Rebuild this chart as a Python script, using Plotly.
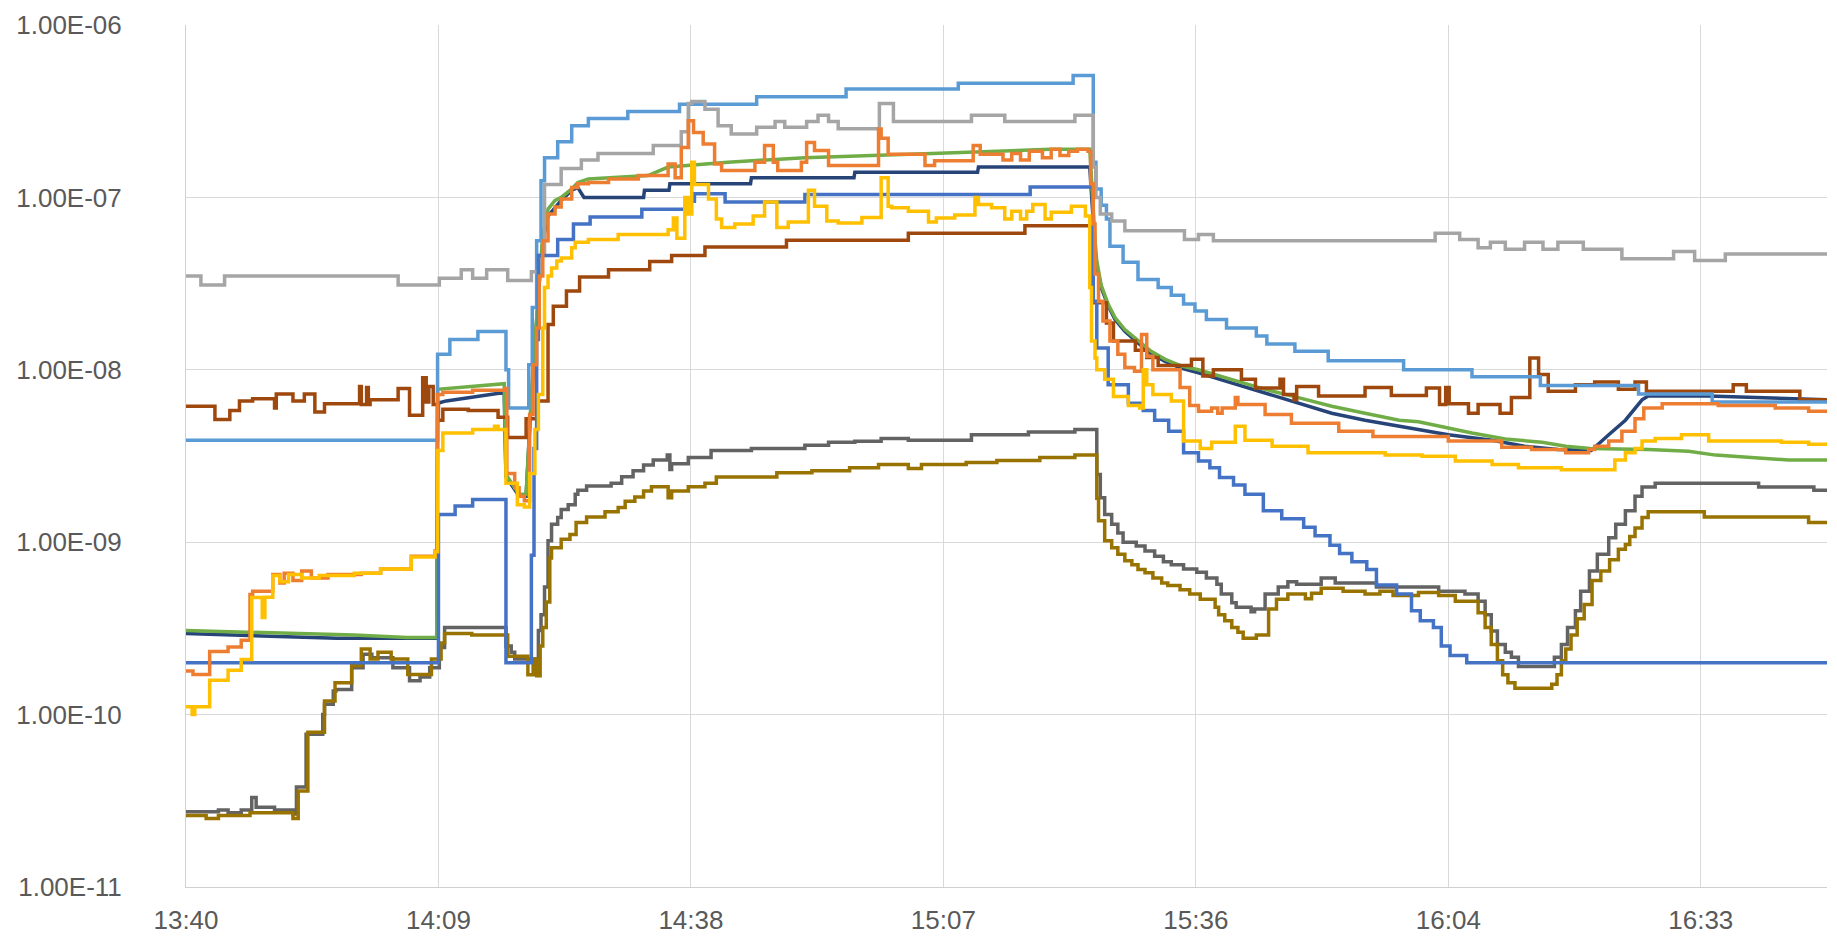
import plotly.graph_objects as go

# ---------------- data (time in minutes after midnight, value) ----------------
tick_vals = [820.8, 849.6, 878.4, 907.2, 936.0, 964.8, 993.6]
tick_text = ["13:40", "14:09", "14:38", "15:07", "15:36", "16:04", "16:33"]
y_tick_vals = [1e-11, 1e-10, 1e-9, 1e-8, 1e-7, 1e-6]
y_tick_text = ["1.00E-11", "1.00E-10", "1.00E-09", "1.00E-08", "1.00E-07", "1.00E-06"]

t_blue = [820.8, 849.6, 851.5, 853.5, 857.3, 860.2, 860.5, 860.8, 861.0, 863.2, 865.0, 866.9, 872.8, 878.1,
          878.8, 882.3, 891.4, 917.1, 924.3, 924.7, 926.0, 928.3, 930.0, 931.3, 932.9, 934.6, 936.3, 937.6,
          938.7, 940.3, 941.6, 943.7, 945.8, 948.3, 949.6, 951.3, 952.4, 953.8, 955.5, 956.6, 958.9, 960.6,
          961.6, 963.1, 964.0, 965.0, 966.9, 1008]
v_blue = [2.0e-10, 1.45e-9, 1.62e-9, 1.77e-9, 2.0e-10, 8.4e-10, 3.5e-9, 1.5e-8, 4.6e-8, 5.7e-8, 7.0e-8, 7.7e-8,
          8.55e-8, 9.5e-8, 1.05e-7, 9.4e-8, 1.04e-7, 1.15e-7, 2.5e-8, 1.34e-8, 8.2e-9, 6.4e-9, 5.8e-9, 5.1e-9,
          4.4e-9, 3.3e-9, 2.96e-9, 2.7e-9, 2.37e-9, 2.15e-9, 1.9e-9, 1.52e-9, 1.37e-9, 1.22e-9, 1.09e-9, 9.6e-10,
          8.6e-10, 7.7e-10, 6.95e-10, 5.65e-10, 5.0e-10, 4.0e-10, 3.5e-10, 3.2e-10, 2.5e-10, 2.2e-10, 2.0e-10,
          2.0e-10]

t_orange = [820.8, 821.6, 823.5, 825.6, 827.1, 828.1, 828.4, 830.7, 831.5, 832.0, 833.0, 834.0, 835.1, 837.0,
            840.8, 843.0, 846.5, 849.2, 849.5, 850.1, 853.5, 857.2, 857.4, 858.3, 858.8, 859.4, 860.0, 860.4,
            860.8, 861.1, 861.5, 862.1, 862.9, 863.6, 864.8, 865.5, 866.7, 869.0, 872.4, 875.8, 876.6, 877.3,
            878.1, 878.7, 879.8, 881.1, 881.9, 885.7, 886.8, 887.8, 888.3, 891.0, 891.6, 892.5, 894.1, 899.8,
            900.1, 900.9, 905.1, 906.2, 910.0, 910.6, 911.4, 914.0, 915.0, 916.0, 917.0, 918.5, 919.5, 920.5,
            921.5, 922.5, 923.7, 924.0, 924.3, 924.5, 924.9, 925.4, 926.2, 927.1, 927.9, 929.0, 929.8, 930.4,
            931.1, 934.2, 935.3, 936.3, 937.8, 938.5, 939.0, 940.5, 940.8, 943.9, 946.9, 952.3, 956.2, 964.8,
            970.9, 974.3, 978.2, 980.8, 981.5, 983.1, 984.6, 986.1, 987.1, 989.2, 995.6, 1002.1, 1005.9, 1008]
v_orange = [1.79e-10, 1.71e-10, 2.32e-10, 2.47e-10, 2.7e-10, 4.98e-10, 5.2e-10, 6.5e-10, 5.8e-10, 6.6e-10, 6.0e-10,
            6.8e-10, 6.2e-10, 6.5e-10, 6.6e-10, 7.0e-10, 8.3e-10, 8.9e-10, 7.2e-9, 7.4e-9, 7.6e-9, 7.8e-9, 2.5e-9,
            2.07e-9, 1.85e-9, 1.74e-9, 5.5e-9, 1.07e-8, 1.75e-8, 3.5e-8, 5.6e-8, 8.0e-8, 8.8e-8, 9.8e-8, 1.14e-7,
            1.2e-7, 1.22e-7, 1.28e-7, 1.34e-7, 1.56e-7, 1.3e-7, 1.95e-7, 2.78e-7, 2.38e-7, 2.04e-7, 1.56e-7,
            1.43e-7, 1.6e-7, 2.0e-7, 1.6e-7, 1.43e-7, 1.6e-7, 2.08e-7, 1.87e-7, 1.53e-7, 2.49e-7, 2.2e-7, 1.78e-7,
            1.53e-7, 1.63e-7, 1.63e-7, 2.0e-7, 1.78e-7, 1.65e-7, 1.8e-7, 1.65e-7, 1.85e-7, 1.7e-7, 1.9e-7, 1.75e-7,
            1.85e-7, 1.9e-7, 1.85e-7, 1.2e-7, 7.0e-8, 3.6e-8, 2.5e-8, 1.92e-8, 1.47e-8, 1.23e-8, 1.03e-8, 9.8e-9,
            1.6e-8, 1.2e-8, 1.0e-8, 7.9e-9, 6.2e-9, 5.75e-9, 6.0e-9, 5.6e-9, 6.0e-9, 6.9e-9, 6.3e-9, 5.5e-9,
            4.9e-9, 4.4e-9, 4.1e-9, 3.86e-9, 3.55e-9, 3.45e-9, 3.3e-9, 3.45e-9, 3.6e-9, 3.86e-9, 4.4e-9, 5.2e-9,
            6.0e-9, 6.35e-9, 6.2e-9, 6.0e-9, 5.75e-9, 5.75e-9]

t_gray = [820.8, 822.5, 825.2, 845.0, 849.7, 852.2, 853.5, 855.1, 857.5, 860.2, 861.2, 861.7, 863.6, 865.9,
          867.8, 874.1, 877.3, 878.1, 878.5, 880.0, 881.5, 883.0, 885.9, 888.0, 889.1, 891.6, 892.9, 894.1,
          895.2, 899.9, 901.5, 910.4, 914.2, 922.2, 924.3, 924.6, 925.1, 926.4, 927.9, 934.7, 936.3, 938.0,
          963.3, 966.1, 968.2, 969.6, 971.3, 973.5, 975.6, 977.3, 980.2, 984.6, 990.5, 992.9, 996.4, 1008]
v_gray = [3.5e-8, 3.1e-8, 3.5e-8, 3.1e-8, 3.4e-8, 3.8e-8, 3.4e-8, 3.8e-8, 3.3e-8, 3.7e-8, 4.6e-8, 1.19e-7,
          1.47e-7, 1.65e-7, 1.8e-7, 2.0e-7, 2.4e-7, 3.5e-7, 3.6e-7, 3.25e-7, 2.6e-7, 2.33e-7, 2.55e-7, 2.76e-7,
          2.55e-7, 2.76e-7, 3.0e-7, 2.76e-7, 2.5e-7, 3.5e-7, 2.76e-7, 3.0e-7, 2.76e-7, 3.0e-7, 1.5e-7, 1.0e-7,
          8.0e-8, 7.3e-8, 6.4e-8, 5.7e-8, 6.1e-8, 5.6e-8, 6.2e-8, 5.7e-8, 5.1e-8, 5.5e-8, 5.0e-8, 5.5e-8, 5.0e-8,
          5.5e-8, 5.0e-8, 4.4e-8, 4.85e-8, 4.3e-8, 4.7e-8, 4.7e-8]

t_gold = [820.8, 821.5, 821.8, 823.5, 825.6, 827.1, 828.3, 829.5, 829.8, 830.7, 831.5, 832.5, 834.0, 836.0,
          840.0, 843.0, 846.5, 849.2, 849.5, 850.1, 853.5, 856.0, 856.4, 857.3, 858.6, 859.4, 860.0, 860.6,
          861.0, 861.5, 861.7, 862.1, 862.5, 863.1, 863.6, 864.8, 865.2, 866.7, 870.1, 875.8, 876.4, 876.8,
          877.7, 878.1, 878.5, 878.8, 880.4, 881.3, 881.9, 883.4, 885.5, 886.8, 888.2, 889.5, 891.8, 892.5,
          893.9, 895.2, 897.9, 900.1, 900.9, 901.3, 903.2, 905.5, 906.4, 908.5, 910.8, 911.2, 912.7, 914.2,
          915.0, 916.0, 916.7, 917.4, 918.8, 919.5, 921.8, 923.4, 923.9, 924.1, 924.5, 924.7, 925.6, 926.6,
          928.3, 929.6, 930.0, 930.4, 931.1, 933.2, 934.6, 936.5, 937.8, 940.5, 941.6, 944.7, 948.8, 957.6,
          961.8, 965.6, 969.8, 972.8, 977.7, 983.8, 985.0, 986.1, 986.9, 988.4, 991.4, 994.5, 1002.8, 1005.9, 1008]
v_gold = [1.11e-10, 1.0e-10, 1.11e-10, 1.58e-10, 1.81e-10, 2.09e-10, 4.77e-10, 3.66e-10, 4.8e-10, 6.4e-10,
          5.9e-10, 6.5e-10, 6.2e-10, 6.4e-10, 6.6e-10, 7.0e-10, 8.2e-10, 8.8e-10, 3.4e-9, 4.3e-9, 4.5e-9, 4.7e-9,
          4.5e-9, 2.2e-9, 1.65e-9, 1.6e-9, 2.5e-9, 4.5e-9, 7.2e-9, 1.75e-8, 3.0e-8, 3.5e-8, 3.9e-8, 4.27e-8,
          4.45e-8, 5.1e-8, 5.5e-8, 5.7e-8, 6.1e-8, 6.5e-8, 7.6e-8, 5.8e-8, 1.0e-7, 8.0e-8, 1.6e-7, 1.19e-7,
          9.8e-8, 7.5e-8, 6.7e-8, 7.0e-8, 7.8e-8, 9.4e-8, 6.7e-8, 7.2e-8, 1.1e-7, 8.9e-8, 7.3e-8, 7.1e-8,
          7.65e-8, 1.3e-7, 8.9e-8, 8.7e-8, 8.3e-8, 7.2e-8, 7.6e-8, 7.9e-8, 1.0e-7, 9.1e-8, 8.7e-8, 7.5e-8,
          8.3e-8, 7.5e-8, 8.3e-8, 9.1e-8, 7.5e-8, 8.2e-8, 8.9e-8, 7.8e-8, 3.0e-8, 1.47e-8, 1.17e-8, 1.0e-8,
          8.8e-9, 7.0e-9, 6.2e-9, 6.0e-9, 1.0e-8, 8.2e-9, 7.2e-9, 6.6e-9, 3.86e-9, 3.5e-9, 3.8e-9, 4.7e-9,
          3.9e-9, 3.6e-9, 3.3e-9, 3.2e-9, 3.15e-9, 2.96e-9, 2.82e-9, 2.7e-9, 2.63e-9, 3.0e-9, 3.3e-9, 3.5e-9,
          3.86e-9, 4.0e-9, 4.2e-9, 3.86e-9, 3.8e-9, 3.7e-9, 3.7e-9]

t_lightblue = [820.8, 849.5, 850.9, 854.1, 857.3, 857.6, 859.9, 860.3, 860.8, 861.3, 861.7, 863.2, 864.8, 866.7,
               871.2, 877.1, 885.9, 896.1, 908.9, 922.0, 924.3, 924.6, 925.2, 925.8, 926.2, 927.7, 929.4, 931.7,
               933.2, 934.6, 935.9, 937.2, 939.5, 942.9, 944.1, 947.3, 951.1, 959.7, 967.5, 975.3, 986.5, 994.9,
               1008]
v_lightblue = [3.9e-9, 1.23e-8, 1.5e-8, 1.67e-8, 1.0e-8, 6.0e-9, 1.07e-8, 2.3e-8, 5.6e-8, 1.25e-7, 1.7e-7, 2.1e-7,
               2.6e-7, 2.87e-7, 3.15e-7, 3.47e-7, 3.84e-7, 4.25e-7, 4.6e-7, 5.09e-7, 1.6e-7, 1.12e-7, 9.0e-8,
               7.5e-8, 5.2e-8, 4.2e-8, 3.34e-8, 3.0e-8, 2.71e-8, 2.41e-8, 2.19e-8, 1.96e-8, 1.75e-8, 1.57e-8,
               1.41e-8, 1.28e-8, 1.13e-8, 1.0e-8, 9.1e-9, 8.1e-9, 7.25e-9, 6.5e-9, 6.5e-9]

t_green = [820.8, 830.0, 840.0, 846.0, 849.4, 849.5, 853.5, 856.8, 857.1, 857.3, 858.8, 859.6, 860.0, 860.4,
           860.8, 861.2, 861.5, 862.1, 862.9, 863.6, 864.8, 865.5, 866.7, 873.5, 875.8, 882.6, 891.4, 905.9,
           919.4, 923.9, 924.1, 924.5, 924.7, 925.2, 926.0, 926.8, 927.9, 929.4, 930.9, 932.5, 934.4, 936.3,
           940.1, 943.9, 947.7, 951.5, 955.3, 959.2, 961.4, 964.8, 967.5, 971.3, 975.5, 978.2, 981.0, 987.6,
           992.2, 995.3, 999.1, 1003.6, 1008]
v_green = [3.07e-10, 3.0e-10, 2.9e-10, 2.8e-10, 2.8e-10, 7.7e-9, 8.0e-9, 8.3e-9, 8.3e-9, 2.47e-9, 1.9e-9, 1.9e-9,
           5.0e-9, 1.1e-8, 2.0e-8, 4.0e-8, 6.0e-8, 8.55e-8, 9.6e-8, 1.0e-7, 1.12e-7, 1.22e-7, 1.28e-7, 1.34e-7,
           1.5e-7, 1.6e-7, 1.7e-7, 1.8e-7, 1.9e-7, 1.9e-7, 1.2e-7, 5.6e-8, 4.27e-8, 3.1e-8, 2.4e-8, 2.0e-8,
           1.71e-8, 1.47e-8, 1.28e-8, 1.15e-8, 1.05e-8, 1.0e-8, 8.8e-9, 7.7e-9, 6.9e-9, 6.15e-9, 5.6e-9, 5.1e-9,
           5.0e-9, 4.6e-9, 4.3e-9, 3.97e-9, 3.8e-9, 3.6e-9, 3.5e-9, 3.45e-9, 3.37e-9, 3.2e-9, 3.1e-9, 3.0e-9,
           3.0e-9]

t_darkblue = [820.8, 838.0, 849.4, 849.5, 850.5, 853.0, 856.5, 857.1, 857.3, 858.8, 859.6, 860.0, 860.4, 860.8,
              861.2, 861.5, 862.1, 862.9, 863.6, 864.8, 865.5, 866.2, 873.0, 873.1, 875.9, 876.0, 885.2, 885.3,
              897.0, 897.1, 911.1, 911.2, 923.9, 924.5, 924.7, 925.2, 926.0, 926.8, 927.9, 929.4, 930.9, 932.5,
              934.4, 936.3, 940.1, 943.9, 947.7, 951.5, 955.3, 959.2, 961.4, 964.8, 969.8, 973.5, 977.3, 981.1,
              983.1, 985.0, 986.9, 987.6, 994.5, 1000.0, 1008]
v_darkblue = [2.95e-10, 2.77e-10, 2.77e-10, 6.4e-9, 6.6e-9, 6.9e-9, 7.3e-9, 7.3e-9, 2.4e-9, 1.85e-9, 1.85e-9,
              4.5e-9, 1.0e-8, 1.9e-8, 3.8e-8, 5.6e-8, 7.8e-8, 8.8e-8, 9.6e-8, 1.1e-7, 1.14e-7, 1.0e-7, 1.0e-7,
              1.1e-7, 1.1e-7, 1.2e-7, 1.2e-7, 1.3e-7, 1.3e-7, 1.4e-7, 1.4e-7, 1.5e-7, 1.5e-7, 5.0e-8, 4.0e-8,
              3.0e-8, 2.35e-8, 1.95e-8, 1.67e-8, 1.43e-8, 1.24e-8, 1.12e-8, 1.02e-8, 9.6e-9, 8.4e-9, 7.35e-9,
              6.4e-9, 5.6e-9, 5.1e-9, 4.7e-9, 4.5e-9, 4.2e-9, 3.9e-9, 3.6e-9, 3.45e-9, 3.4e-9, 4.2e-9, 5.1e-9,
              6.7e-9, 7.05e-9, 7.05e-9, 6.9e-9, 6.7e-9]

t_brown = [820.8, 824.1, 825.8, 826.9, 828.4, 830.9, 831.1, 833.0, 834.3, 835.5, 836.6, 840.6, 840.8, 841.4,
           841.6, 841.8, 845.0, 846.3, 847.8, 848.2, 848.5, 849.0, 849.6, 850.1, 853.0, 856.4, 857.5, 859.6,
           860.8, 862.1, 862.7, 864.2, 865.7, 869.0, 873.7, 876.2, 880.0, 889.3, 903.2, 916.5, 924.1, 924.3,
           925.8, 926.6, 929.1, 930.4, 931.7, 935.5, 936.8, 938.0, 941.2, 942.8, 945.6, 946.0, 947.2, 947.5,
           950.0, 955.3, 958.3, 962.3, 963.8, 964.5, 964.9, 967.1, 968.2, 970.7, 972.0, 974.1, 975.1, 976.2,
           979.3, 981.5, 984.2, 986.1, 987.4, 997.3, 998.8, 1004.9, 1008]
v_brown = [6.15e-9, 5.15e-9, 5.8e-9, 6.6e-9, 6.8e-9, 6.0e-9, 7.25e-9, 6.6e-9, 7.25e-9, 5.7e-9, 6.35e-9, 8.0e-9,
           6.3e-9, 7.9e-9, 6.3e-9, 6.7e-9, 7.8e-9, 5.45e-9, 9.0e-9, 6.5e-9, 8.0e-9, 6.3e-9, 5.1e-9, 5.9e-9,
           5.8e-9, 5.3e-9, 4.05e-9, 5.2e-9, 6.6e-9, 1.83e-8, 2.34e-8, 2.86e-8, 3.45e-8, 3.8e-8, 4.25e-8, 4.6e-8,
           5.15e-8, 5.65e-8, 6.2e-8, 6.85e-8, 3.0e-8, 2.45e-8, 1.87e-8, 1.47e-8, 1.3e-8, 1.18e-8, 1.06e-8,
           1.15e-8, 9.2e-9, 1.0e-8, 8.8e-9, 7.85e-9, 8.8e-9, 7.2e-9, 6.7e-9, 8.0e-9, 7.05e-9, 7.9e-9, 7.1e-9,
           7.85e-9, 6.3e-9, 7.9e-9, 6.35e-9, 5.6e-9, 6.3e-9, 5.6e-9, 6.9e-9, 1.17e-8, 9.4e-9, 7.5e-9, 8.2e-9,
           8.5e-9, 7.7e-9, 8.5e-9, 7.5e-9, 8.2e-9, 7.5e-9, 6.7e-9, 6.7e-9]

t_darkgray = [820.8, 824.5, 825.6, 827.1, 828.3, 828.8, 830.9, 833.0, 833.4, 834.5, 836.4, 836.6, 837.6, 837.9,
              839.7, 841.0, 842.0, 844.4, 846.3, 847.5, 848.6, 849.7, 850.3, 857.3, 857.9, 858.3, 861.0, 861.3,
              861.7, 862.1, 862.5, 863.2, 863.6, 864.4, 865.2, 865.5, 866.5, 869.3, 870.5, 871.8, 873.0, 874.1,
              875.7, 876.0, 876.2, 878.1, 880.7, 885.3, 891.4, 894.1, 897.1, 900.1, 903.2, 910.4, 916.9, 922.2,
              924.4, 924.7, 925.1, 925.6, 926.4, 927.1, 927.7, 929.2, 930.2, 931.3, 932.3, 933.2, 934.6, 936.1,
              937.2, 938.4, 938.9, 940.1, 940.6, 942.3, 942.7, 943.9, 945.4, 946.5, 947.5, 950.3, 951.9, 956.6,
              963.7, 966.7, 968.2, 969.0, 969.7, 970.4, 971.3, 972.0, 972.8, 976.9, 977.7, 978.4, 979.3, 979.9,
              980.9, 981.8, 983.1, 983.9, 985.0, 986.1, 986.9, 988.4, 1000.2, 1006.5, 1008]
v_darkgray = [2.73e-11, 2.8e-11, 2.7e-11, 2.8e-11, 3.3e-11, 2.9e-11, 2.8e-11, 2.65e-11, 3.8e-11, 7.7e-11, 1.0e-10,
              1.15e-10, 1.37e-10, 1.4e-10, 1.87e-10, 2.24e-10, 2.14e-10, 1.87e-10, 1.57e-10, 1.65e-10, 1.87e-10,
              2.45e-10, 3.2e-10, 2.5e-10, 2.3e-10, 2.1e-10, 3.07e-10, 3.8e-10, 5.5e-10, 1.02e-9, 1.27e-9, 1.39e-9,
              1.55e-9, 1.65e-9, 1.9e-9, 2.0e-9, 2.12e-9, 2.2e-9, 2.4e-9, 2.6e-9, 2.8e-9, 3.0e-9, 3.2e-9, 2.64e-9,
              2.85e-9, 3.1e-9, 3.4e-9, 3.5e-9, 3.65e-9, 3.8e-9, 3.85e-9, 4.0e-9, 3.9e-9, 4.2e-9, 4.35e-9, 4.5e-9,
              4.5e-9, 2.47e-9, 1.81e-9, 1.45e-9, 1.27e-9, 1.13e-9, 1.0e-9, 9.5e-10, 8.9e-10, 8.3e-10, 7.7e-10,
              7.4e-10, 7.0e-10, 6.7e-10, 6.2e-10, 5.7e-10, 5.0e-10, 4.45e-10, 4.2e-10, 3.95e-10, 4.1e-10, 5.0e-10,
              5.5e-10, 5.9e-10, 5.7e-10, 6.2e-10, 5.8e-10, 5.5e-10, 5.2e-10, 5.0e-10, 4.55e-10, 3.8e-10, 3.05e-10,
              2.55e-10, 2.3e-10, 2.15e-10, 1.9e-10, 2.15e-10, 2.55e-10, 3.2e-10, 4.0e-10, 5.2e-10, 6.8e-10, 8.5e-10,
              1.06e-9, 1.27e-9, 1.52e-9, 1.85e-9, 2.09e-9, 2.2e-9, 2.09e-9, 2.0e-9, 2.0e-9]

t_olive = [820.8, 823.1, 824.5, 828.1, 833.0, 833.6, 834.7, 836.6, 837.8, 839.7, 840.8, 841.8, 842.7, 844.2,
           846.1, 848.8, 849.9, 850.3, 853.4, 857.5, 859.8, 860.4, 860.8, 861.2, 861.5, 861.9, 862.3, 862.5,
           863.6, 864.6, 865.3, 866.5, 868.6, 870.1, 870.9, 872.0, 873.0, 873.9, 875.8, 876.2, 878.1, 880.0,
           881.3, 888.2, 892.2, 896.5, 899.8, 903.2, 904.7, 909.8, 913.3, 918.2, 922.2, 924.5, 924.7, 924.9,
           925.6, 926.4, 927.1, 927.9, 928.7, 929.4, 930.2, 931.1, 932.1, 932.8, 934.2, 935.3, 936.5, 938.2,
           938.6, 939.3, 940.1, 940.8, 941.4, 942.9, 944.3, 945.2, 946.5, 948.5, 949.2, 950.3, 952.8, 955.3,
           957.0, 958.5, 961.4, 963.7, 965.6, 968.2, 969.0, 969.7, 970.4, 971.0, 971.6, 972.4, 976.6, 977.2,
           977.7, 978.2, 978.8, 979.5, 980.3, 981.2, 982.2, 983.2, 984.2, 985.0, 985.5, 986.1, 986.9, 987.6,
           994.0, 1005.9, 1008]
v_olive = [2.6e-11, 2.5e-11, 2.6e-11, 2.7e-11, 2.5e-11, 3.6e-11, 7.9e-11, 1.2e-10, 1.53e-10, 1.92e-10, 2.4e-10,
           2.1e-10, 2.3e-10, 2.1e-10, 1.71e-10, 2.1e-10, 2.6e-10, 2.95e-10, 2.9e-10, 2.18e-10, 1.7e-10, 2.1e-10,
           1.68e-10, 2.5e-10, 3.2e-10, 4.5e-10, 8.1e-10, 9.3e-10, 1.04e-9, 1.11e-9, 1.3e-9, 1.4e-9, 1.5e-9,
           1.59e-9, 1.73e-9, 1.83e-9, 1.98e-9, 2.1e-9, 1.81e-9, 1.98e-9, 2.1e-9, 2.2e-9, 2.39e-9, 2.53e-9, 2.6e-9,
           2.7e-9, 2.82e-9, 2.68e-9, 2.82e-9, 2.9e-9, 2.98e-9, 3.1e-9, 3.2e-9, 3.2e-9, 1.8e-9, 1.33e-9, 1.02e-9,
           9.3e-10, 8.5e-10, 7.8e-10, 7.4e-10, 6.95e-10, 6.65e-10, 6.2e-10, 5.8e-10, 5.6e-10, 5.3e-10, 5.0e-10,
           4.66e-10, 4.2e-10, 3.8e-10, 3.5e-10, 3.2e-10, 3.0e-10, 2.77e-10, 2.9e-10, 4.1e-10, 4.66e-10, 5.0e-10,
           4.7e-10, 5.05e-10, 5.4e-10, 5.2e-10, 5.0e-10, 5.2e-10, 4.9e-10, 5.1e-10, 4.9e-10, 4.55e-10, 3.9e-10,
           3.2e-10, 2.55e-10, 2.05e-10, 1.7e-10, 1.53e-10, 1.42e-10, 1.5e-10, 1.7e-10, 2.05e-10, 2.4e-10, 2.9e-10,
           3.6e-10, 4.35e-10, 6.0e-10, 6.8e-10, 7.9e-10, 9.1e-10, 9.7e-10, 1.08e-9, 1.21e-9, 1.39e-9, 1.5e-9,
           1.4e-9, 1.3e-9, 1.3e-9]

# drawing order: first = bottom
series = [
    ("darkgray", t_darkgray, v_darkgray, "#636363", "hv"),
    ("olive", t_olive, v_olive, "#997300", "hv"),
    ("darkblue", t_darkblue, v_darkblue, "#264478", "linear"),
    ("green", t_green, v_green, "#70AD47", "linear"),
    ("brown", t_brown, v_brown, "#9E480E", "hv"),
    ("lightblue", t_lightblue, v_lightblue, "#5B9BD5", "hv"),
    ("gray", t_gray, v_gray, "#A5A5A5", "hv"),
    ("blue", t_blue, v_blue, "#4472C4", "hv"),
    ("orange", t_orange, v_orange, "#ED7D31", "hv"),
    ("gold", t_gold, v_gold, "#FFC000", "hv"),
]

fig = go.Figure()
for name, t, v, color, shape in series:
    fig.add_trace(go.Scatter(x=t, y=v, mode="lines", name=name,
                             line=dict(color=color, width=3.5, shape=shape)))

font_family = "Liberation Sans, Arial, sans-serif"
fig.update_layout(
    width=1837, height=949,
    margin=dict(l=178, r=18, t=17, b=70, autoexpand=False),
    paper_bgcolor="white", plot_bgcolor="white",
    showlegend=False,
    font=dict(family=font_family, size=26, color="#595959"),
)
fig.update_xaxes(
    range=[820.8, 1008], tickvals=tick_vals, ticktext=tick_text,
    showgrid=True, gridcolor="#D9D9D9", gridwidth=1,
    showline=True, linecolor="#D0D0D0", linewidth=1,
    zeroline=False, ticks="", ticklabelstandoff=10, automargin=False,
)
fig.update_yaxes(
    type="log", range=[-11, -6], tickvals=y_tick_vals, ticktext=y_tick_text,
    showgrid=True, gridcolor="#D9D9D9", gridwidth=1,
    showline=True, linecolor="#D0D0D0", linewidth=1,
    zeroline=False, ticks="", ticklabelstandoff=58, automargin=False,
)

fig.write_html("out.html")
